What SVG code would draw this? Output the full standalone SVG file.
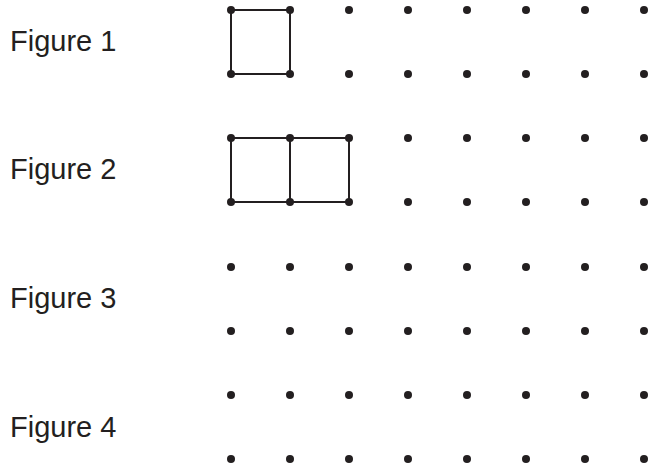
<svg xmlns="http://www.w3.org/2000/svg" width="653" height="471" viewBox="0 0 653 471">
<defs>
<style>
.lbl{font-family:"Liberation Sans",Arial,sans-serif;font-size:29px;fill:#231f20}
.d{fill:#231f20}
.e{stroke:#231f20;stroke-width:2;fill:none}
</style>
<g id="row">
<circle class="d" cx="231" cy="0" r="4"/><circle class="d" cx="290" cy="0" r="4"/><circle class="d" cx="349" cy="0" r="4"/><circle class="d" cx="408" cy="0" r="4"/><circle class="d" cx="467" cy="0" r="4"/><circle class="d" cx="526" cy="0" r="4"/><circle class="d" cx="585" cy="0" r="4"/><circle class="d" cx="644" cy="0" r="4"/>
</g>
</defs>
<rect width="653" height="471" fill="#ffffff"/>
<g id="connectors">
<path class="e" d="M231 10H290V74H231Z"/>
<path class="e" d="M231 138H349V202H231Z M290 138V202"/>
</g>
<g id="figure1">
<text class="lbl" x="10" y="51">Figure 1</text>
<use href="#row" y="10"/><use href="#row" y="74"/>
</g>
<g id="figure2">
<text class="lbl" x="10" y="179">Figure 2</text>
<use href="#row" y="138"/><use href="#row" y="202"/>
</g>
<g id="figure3">
<text class="lbl" x="10" y="308">Figure 3</text>
<use href="#row" y="267"/><use href="#row" y="331"/>
</g>
<g id="figure4">
<text class="lbl" x="10" y="437">Figure 4</text>
<use href="#row" y="395"/><use href="#row" y="459"/>
</g>
</svg>
